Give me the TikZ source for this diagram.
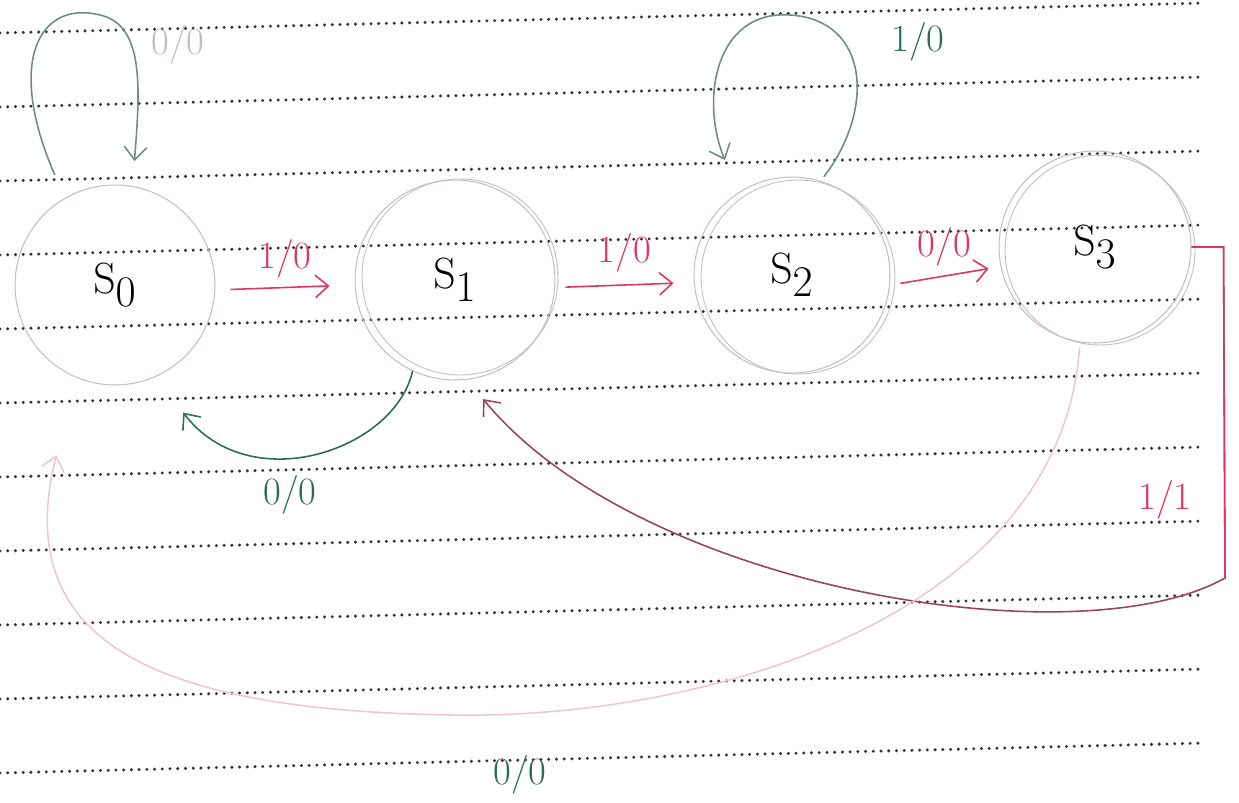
\documentclass[tikz,border=0pt]{standalone}
\usepackage{tikz}
\usetikzlibrary{positioning,arrows.meta,calc}
\definecolor{redink}{RGB}{224,52,98}
\definecolor{darkred}{RGB}{150,70,95}
\definecolor{greenink}{RGB}{45,108,92}
\definecolor{greygreen}{RGB}{110,140,132}
\definecolor{ringgray}{RGB}{200,188,194}
\definecolor{paleink}{RGB}{236,200,212}
\definecolor{dotink}{RGB}{55,48,52}
\tikzset{
  statecirc/.style={circle, draw=ringgray, line width=0.6pt, minimum size=4cm,
    inner sep=0pt, font=\fontsize{40}{44}\selectfont},
  statering/.style={draw=ringgray, line width=0.5pt},
  ruleline/.style={draw=dotink, line width=1.9pt, line cap=round,
    dash pattern=on 0pt off 4.4pt},
  inkarrow/.style={-{Straight Barb[length=2.6mm,width=4.5mm]}, line width=0.9pt},
  redarrow/.style={inkarrow, draw=redink},
  greenarrow/.style={inkarrow, draw=greenink},
  edgelabel/.style={font=\fontsize{22}{26}\selectfont, inner sep=1pt},
}

\begin{document}
\begin{tikzpicture}[x=0.02cm, y=-0.02cm]
  \useasboundingbox (0,0) rectangle (1239,802);
  % ruled paper
  \foreach \i in {0,...,10}
    \draw[ruleline] (0,33+74*\i) -- (1205,3+74*\i);
  % states
  \node[statecirc] (s0) at (115,285) {$\mathrm{S}_0$};
  \node[statecirc] (s1) at (455,280) {$\mathrm{S}_1$};
  \node[statecirc, minimum size=3.92cm] (s2) at (792,275) {$\mathrm{S}_2$};
  \node[statecirc, minimum size=3.84cm] (s3) at (1095,247) {$\mathrm{S}_3$};
  \draw[statering] ($(s1)+(5,-3)$) circle (1.96cm);
  \draw[statering] ($(s2)+(6,2)$) circle (1.94cm);
  \draw[statering] ($(s3)+(5,3)$) circle (1.9cm);
  % forward transitions
  \draw[redarrow, shorten <=0.3cm, shorten >=0.5cm] ([yshift=-0.1cm]s0.east) -- node[edgelabel, above=4pt, text=redink] (l01) {1/0} ([yshift=-0.1cm]s1.west);
  \draw[redarrow, shorten <=0.2cm, shorten >=0.4cm] ([yshift=-0.15cm]s1.east) -- node[edgelabel, above=6pt, text=redink] (l12) {1/0} ([yshift=-0.15cm]s2.west);
  \draw[redarrow, shorten <=0.2cm, shorten >=0.2cm] ([yshift=-0.2cm]s2.east) -- node[edgelabel, above=4pt, text=redink] (l23) {0/0} ([yshift=-0.4cm]s3.west);
  % self loops
  \draw[inkarrow, draw=greygreen, shorten <=0.5cm, shorten >=0.5cm]
    (s0.120) .. controls (5,60) and (40,0) .. (100,15)
    .. controls (145,25) and (140,90) .. (s0.80);
  \node[edgelabel, text=ringgray] (l00) at (178,45) {0/0};
  \draw[inkarrow, draw=greygreen, shorten <=0.1cm, shorten >=0.7cm]
    (s2.73) .. controls (875,110) and (870,20) .. (790,15)
    .. controls (715,10) and (700,100) .. (s2.123);
  \node[edgelabel, text=greenink] (l22) at (918,42) {1/0};
  % back transitions
  \draw[greenarrow, shorten >=0.9cm]
    (s1.-115) .. controls (395,450) and (250,500) .. (s0.-66);
  \node[edgelabel, text=greenink] (l10) at (290,495) {0/0};
  \draw[inkarrow, draw=darkred, shorten >=0.5cm]
    (s3.east) -- ++(32,0) -- (1225,578)
    .. controls (1080,660) and (640,590) .. (s1.-83);
  \draw[redarrow, -] (s3.east) -- ++(32,0) -- (1225,578);
  \node[edgelabel, text=redink] (l31) at (1165,500) {1/1};
  \draw[inkarrow, draw=paleink, shorten <=0.1cm, shorten >=1.6cm]
    (s3.-99) .. controls (1060,620) and (700,720) .. (450,715)
    .. controls (150,710) and (10,640) .. (s0.-113);
  \node[edgelabel, text=greenink] (l30) at (520,775) {0/0};
\end{tikzpicture}
\end{document}
